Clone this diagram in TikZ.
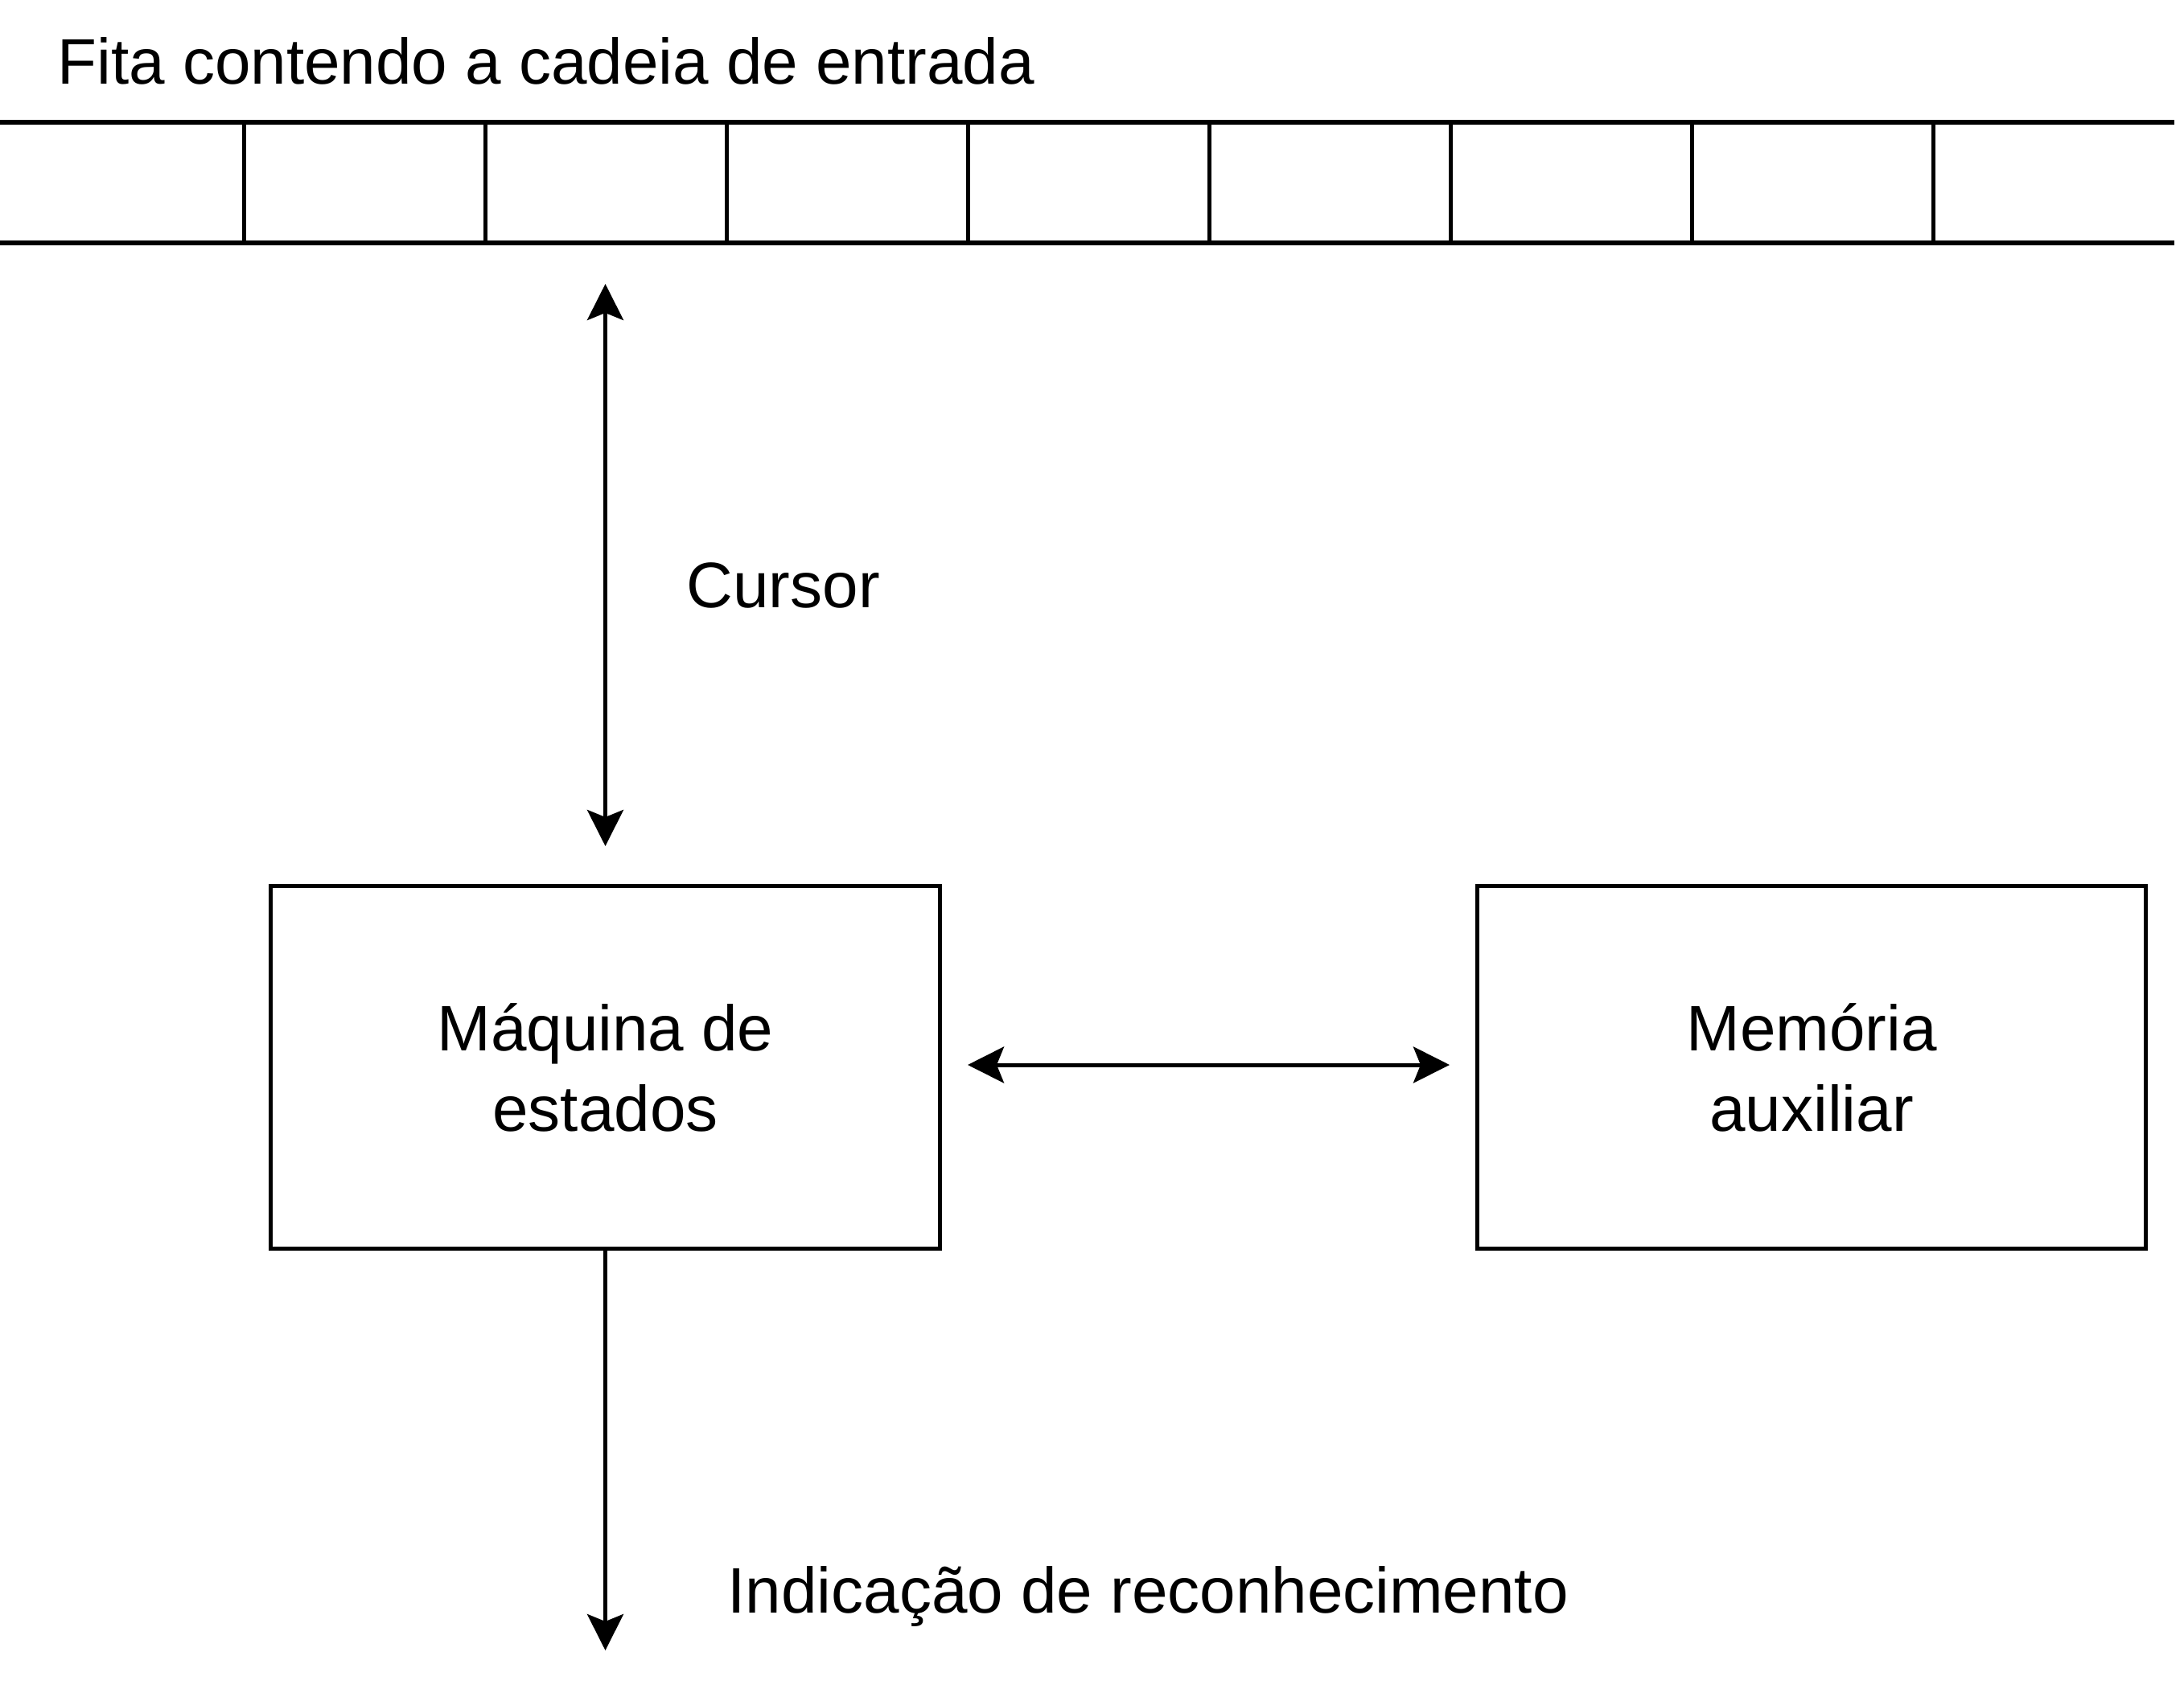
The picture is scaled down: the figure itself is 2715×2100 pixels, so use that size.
\documentclass[tikz,border=0pt]{standalone}
\usepackage{fontspec}
\setmainfont{Liberation Sans}
\usetikzlibrary{arrows.meta}
\begin{document}
\begin{tikzpicture}[x=0.01cm,y=-0.01cm,
  ln/.style={line width=0.05cm},
  arr/.style={line width=0.05cm, -{Stealth[length=0.45cm,width=0.45cm,inset=0.09cm]}},
  darr/.style={line width=0.05cm, {Stealth[length=0.45cm,width=0.45cm,inset=0.09cm]}-{Stealth[length=0.45cm,width=0.45cm,inset=0.09cm]}},
  lbl/.style={inner sep=0pt, anchor=base west, font=\fontsize{22.75pt}{28.45pt}\selectfont},
  boxnode/.style={draw, line width=0.05cm, minimum width=8.31cm, minimum height=4.5cm, align=center, inner sep=0pt, font=\fontsize{22.75pt}{28.45pt}\selectfont}]
\useasboundingbox (0,0) rectangle (2715,2100);
% tape
\coordinate (tl) at (0,152);
\coordinate (tr) at (2703,152);
\coordinate (bl) at (0,302);
\coordinate (br) at (2703,302);
\draw[ln] (tl) -- (tr);
\draw[ln] (bl) -- (br);
\foreach \i in {0,...,7} {
  \draw[ln] (303+\i*300,152) -- (303+\i*300,302);
}
\node[lbl] (fita) at (71,105) {Fita contendo a cadeia de entrada};
% boxes
\node[boxnode] (maq) at (752.5,1327) {Máquina de\\estados};
\node[boxnode] (mem) at (2252,1327) {Memória\\auxiliar};
% cursor arrow
\coordinate (ctop) at (752.5,353);
\coordinate (cbot) at (752.5,1052);
\draw[darr] (cbot) -- (ctop);
\node[lbl] (cur) at (853,755) {Cursor};
% horizontal arrow
\coordinate (hl) at (1203,1324);
\coordinate (hr) at (1802,1324);
\draw[darr] (hl) -- (hr);
% output arrow
\coordinate (out) at (752.5,2052);
\draw[arr] (maq.south) -- (out);
\node[lbl] (ind) at (904,2005) {Indicação de reconhecimento};
\end{tikzpicture}
\end{document}
